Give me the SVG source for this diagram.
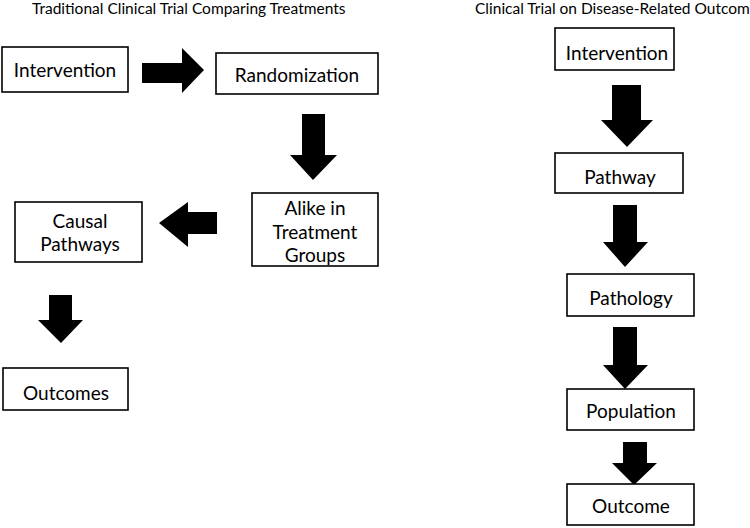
<svg xmlns="http://www.w3.org/2000/svg" width="750" height="528" viewBox="0 0 750 528">
<style>
.box{fill:#fff;stroke:#000;stroke-width:1.6}
.t{font-family:Lato,"Open Sans",sans-serif;font-size:19px;fill:#000;text-anchor:middle}
.title{font-family:Lato,"Open Sans",sans-serif;font-size:15.5px;fill:#000}
.arr{fill:#000}
</style>
<rect width="750" height="528" fill="#fff"/>
<text class="title" x="32" y="14">Traditional Clinical Trial Comparing Treatments</text>
<text class="title" x="475" y="14">Clinical Trial on Disease-Related Outcom</text>
<g id="connectors">
<polygon class="arr" points="142,63 182,63 182,48 204,70 182,93 182,83 142,83"/>
<polygon class="arr" points="302,114 325,114 325,155 337,155 313,180 290,155 302,155"/>
<polygon class="arr" points="217,212 188,212 188,202 159,223 188,247 188,234 217,234"/>
<polygon class="arr" points="49,295 72,295 72,320 83,320 61,343 38,320 49,320"/>
<polygon class="arr" points="612,85 641,85 641,120 653,120 627,147 601,120 612,120"/>
<polygon class="arr" points="613,205 637,205 637,242 648,242 625,267 603,242 613,242"/>
<polygon class="arr" points="613,327 637,327 637,365 648,365 625,389 603,365 613,365"/>
<polygon class="arr" points="623,442 647,442 647,463 657,463 634,485 612,463 623,463"/>
</g>
<g id="n-intervention"><rect class="box" x="2" y="47" width="126" height="45"/><text class="t" x="65" y="77">Intervention</text></g>
<g id="n-randomization"><rect class="box" x="216" y="53" width="162" height="41"/><text class="t" x="297" y="82">Randomization</text></g>
<g id="n-alike"><rect class="box" x="252" y="193" width="126" height="73"/><text class="t" x="315" y="215">Alike in</text><text class="t" x="315" y="239">Treatment</text><text class="t" x="315" y="262">Groups</text></g>
<g id="n-causal"><rect class="box" x="15" y="202" width="127" height="60"/><text class="t" x="80" y="228">Causal</text><text class="t" x="80" y="251">Pathways</text></g>
<g id="n-outcomes"><rect class="box" x="3" y="368" width="125" height="42"/><text class="t" x="66" y="400">Outcomes</text></g>
<g id="n-intervention2"><rect class="box" x="555" y="28" width="119" height="42"/><text class="t" x="617" y="60">Intervention</text></g>
<g id="n-pathway"><rect class="box" x="555" y="153" width="128" height="40"/><text class="t" x="620" y="184">Pathway</text></g>
<g id="n-pathology"><rect class="box" x="567" y="274" width="127" height="42"/><text class="t" x="631" y="305">Pathology</text></g>
<g id="n-population"><rect class="box" x="567" y="389" width="127" height="41"/><text class="t" x="631" y="418">Population</text></g>
<g id="n-outcome"><rect class="box" x="567" y="484" width="127" height="41"/><text class="t" x="631" y="513">Outcome</text></g>
</svg>
